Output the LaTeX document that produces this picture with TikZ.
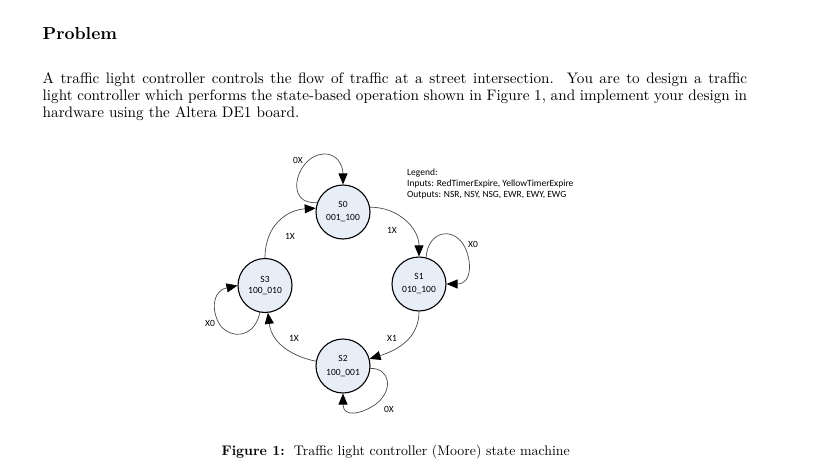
\documentclass[tikz,border=0pt]{standalone}
\usepackage{fontspec}
\newfontfamily\diagfont{Carlito}
\newfontfamily\bodyfont{lmroman10-regular}[Extension=.otf,BoldFont=lmroman10-bold]
\usetikzlibrary{arrows.meta}
\definecolor{statefill}{HTML}{E8EEF8}
\definecolor{edgegray}{HTML}{4A4A4A}
\begin{document}
\begin{tikzpicture}[x=1pt,y=-1pt,
  state/.style={circle,draw=black,line width=1.1pt,fill=statefill,minimum size=54pt,inner sep=0pt,align=center,font=\diagfont\fontsize{9.5}{13}\selectfont},
  edge/.style={draw=edgegray,line width=0.7pt,-{Triangle[length=11pt,width=9pt,color=black]}},
  elabel/.style={font=\diagfont\fontsize{9.5}{11}\selectfont,inner sep=0pt},
  bodytext/.style={anchor=base west,inner sep=0pt,font=\bodyfont\fontsize{15.2}{17}\selectfont},
]
\useasboundingbox (0,0) rectangle (820,474);

% heading and paragraph
\node[anchor=base west,inner sep=0pt,font=\bodyfont\bfseries\fontsize{17.4}{20}\selectfont] (title) at (42.5,39) {Problem};
\node[bodytext] (l1) at (42.5,83.3) {\makebox[704.5pt][s]{A traffic light controller controls the flow of traffic at a street intersection.\ \ You are to design a traffic}};
\node[bodytext] (l2) at (42.5,100.3) {\makebox[704.5pt][s]{light controller which performs the state-based operation shown in Figure 1, and implement your design in}};
\node[bodytext] (l3) at (42.5,117) {hardware using the Altera DE1 board.};

% states
\node[state] (S0) at (343,212) {S0\\001\_100};
\node[state] (S1) at (419,284) {S1\\010\_100};
\node[state,font=\diagfont\fontsize{9.5}{10.5}\selectfont] (S3) at (265,285.5) {S3\\100\_010};
\node[state,font=\diagfont\fontsize{9.5}{14}\selectfont] (S2) at (343,366) {S2\\100\_001};

% legend
\node[anchor=north west,inner sep=0pt,align=left,font=\diagfont\fontsize{9.5}{11.3}\selectfont] (legend) at (407,168.5) {Legend:\\Inputs: RedTimerExpire, YellowTimerExpire\\Outputs: NSR, NSY, NSG, EWR, EWY, EWG};

% edges
\draw[edge] (S0.160) .. controls (285,205) and (295,162) .. (318,155) .. controls (336,150) and (343,165) .. (S0.north);
\draw[edge] (S0.10) .. controls (398,207) and (419,228) .. (S1.north);
\draw[edge] (S1.75) .. controls (428,231) and (452,227) .. (463,244) .. controls (472,258) and (473,284) .. (S1.east);
\draw[edge] (S1.south) .. controls (419,338) and (398,350) .. (S2.15);
\draw[edge] (S2.-5) .. controls (390,368) and (394,390) .. (376,404) .. controls (362,414) and (343,418) .. (S2.south);
\draw[edge] (S2.170) .. controls (295,357) and (272,345) .. (S3.-84);
\draw[edge] (S3.259) .. controls (256,332) and (240,340) .. (225,330) .. controls (213,322) and (208,292) .. (S3.west);
\draw[edge] (S3.north) .. controls (265,225) and (287,210) .. (S0.172);

% edge labels
\node[elabel] (t00) at (298,160.5) {0X};
\node[elabel] (t01) at (392,230) {1X};
\node[elabel] (t11) at (473,244.5) {X0};
\node[elabel] (t12) at (392,338) {X1};
\node[elabel] (t22) at (389,409) {0X};
\node[elabel] (t23) at (294,338) {1X};
\node[elabel] (t33) at (210,323) {X0};
\node[elabel] (t30) at (290,236) {1X};

% caption
\node[anchor=base west,inner sep=0pt,font=\bodyfont\fontsize{13.9}{17}\selectfont] (cap) at (221.5,455.5) {\textbf{Figure 1:}\ \ Traffic light controller (Moore) state machine};
\end{tikzpicture}
\end{document}
